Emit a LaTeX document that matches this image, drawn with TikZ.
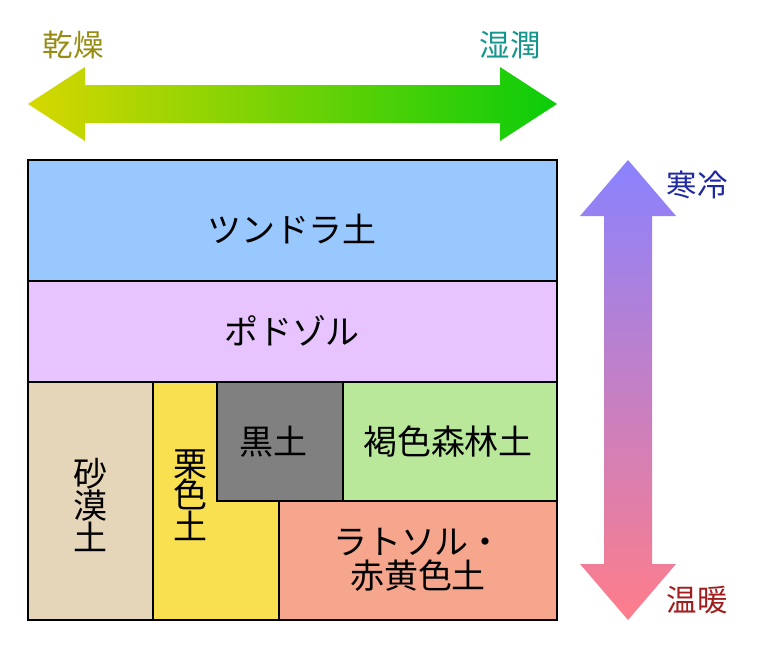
\documentclass[tikz,border=0pt]{standalone}
\usepackage{fontspec}
\setmainfont{Noto Sans CJK JP}
\definecolor{tundra}{HTML}{99C8FF}
\definecolor{podzol}{HTML}{E8C4FF}
\definecolor{desert}{HTML}{E5D6BA}
\definecolor{chestnut}{HTML}{F8E050}
\definecolor{blacksoil}{HTML}{808080}
\definecolor{brownsoil}{HTML}{B9E89B}
\definecolor{laterite}{HTML}{F5A68C}
\begin{document}
\begin{tikzpicture}[x=0.03cm,y=-0.03cm,
  soil/.style={draw=black,line width=1.2pt},
  lbl/.style={font=\fontsize{29}{33}\selectfont,align=center},
  axis/.style={font=\fontsize{26}{30}\selectfont}]
\useasboundingbox (0,0) rectangle (768,644);
% soil zones
\filldraw[soil,fill=tundra] (28,160) rectangle (557,281);
\filldraw[soil,fill=podzol] (28,281) rectangle (557,382);
\filldraw[soil,fill=desert] (28,382) rectangle (153,620);
\filldraw[soil,fill=chestnut] (153,382) -- (217,382) -- (217,501) -- (279,501)
  -- (279,620) -- (153,620) -- cycle;
\filldraw[soil,fill=blacksoil] (217,382) rectangle (343,501);
\filldraw[soil,fill=brownsoil] (343,382) rectangle (557,501);
\filldraw[soil,fill=laterite] (279,501) rectangle (557,620);
\node[lbl] at (292,229) {ツンドラ土};
\node[lbl] at (292,331) {ポドゾル};
\node[lbl] at (90,505) {砂\\[-6pt]漠\\[-6pt]土};
\node[lbl] at (190,495) {栗\\[-6pt]色\\[-6pt]土};
\node[lbl] at (273,442) {黒土};
\node[lbl] at (448,442) {褐色森林土};
\node[lbl] at (418,560) {ラトソル・\\[-4pt]赤黄色土};
% moisture arrow
\shade[left color={rgb,255:red,215;green,215;blue,0},right color={rgb,255:red,10;green,205;blue,10}]
  (28,104) -- (85,67) -- (85,85) -- (500,85) -- (500,67) -- (557,104)
  -- (500,141) -- (500,123) -- (85,123) -- (85,141) -- cycle;
\node[axis,text={rgb,255:red,150;green,140;blue,20}] at (73,45) {乾燥};
\node[axis,text={rgb,255:red,20;green,150;blue,140}] at (510,45) {湿潤};
% temperature arrow
\shade[top color={rgb,255:red,138;green,130;blue,255},bottom color={rgb,255:red,255;green,125;blue,138}]
  (628,160) -- (676,216) -- (652,216) -- (652,564) -- (676,564) -- (628,620)
  -- (580,564) -- (604,564) -- (604,216) -- (580,216) -- cycle;
\node[axis,text={rgb,255:red,30;green,40;blue,160}] at (697,185) {寒冷};
\node[axis,text={rgb,255:red,160;green,30;blue,30}] at (697,600) {温暖};
\end{tikzpicture}
\end{document}
